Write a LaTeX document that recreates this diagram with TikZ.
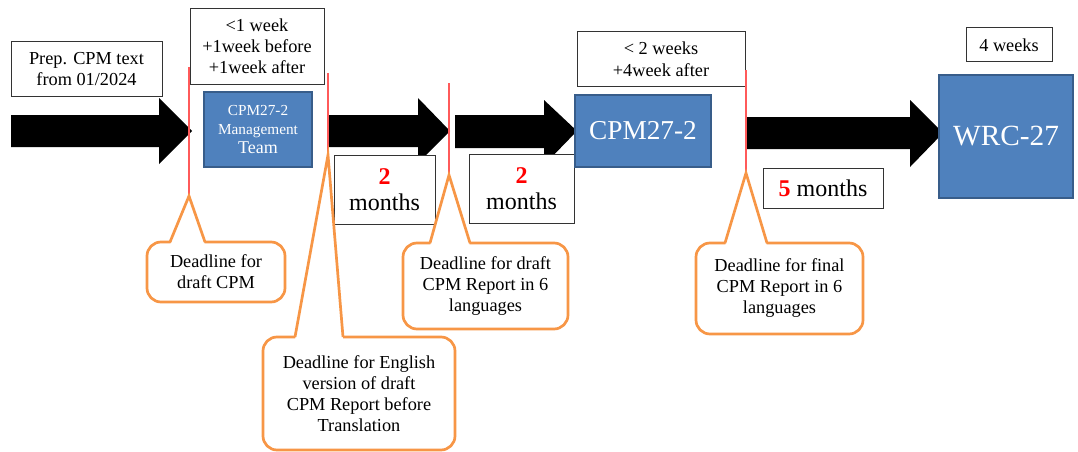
\documentclass[tikz,border=0pt]{standalone}
\usepackage{fontspec}
\setmainfont{Liberation Serif}

\definecolor{stagefill}{HTML}{4F81BD}
\definecolor{stageedge}{HTML}{385D8A}
\definecolor{bubbleline}{HTML}{F79646}
\definecolor{deadred}{HTML}{FF5A5A}

\tikzset{
  note/.style={draw=black!80, line width=1pt, fill=white, align=center, inner sep=0pt,
    font=\fontsize{18.3}{21}\selectfont},
  stage/.style={draw=stageedge, line width=2.5pt, fill=stagefill, text=white,
    align=center, inner sep=0pt},
  bubble/.style={draw=bubbleline, line width=2.7pt, rounded corners=14pt, fill=white,
    align=center, inner sep=0pt, font=\fontsize{18.3}{21}\selectfont},
  pointer/.style={draw=bubbleline, line width=2.7pt, line join=miter},
  deadline/.style={draw=deadred, line width=1.5pt},
}

\begin{document}
\begin{tikzpicture}[x=1pt, y=-1pt]
  \useasboundingbox (0,0) rectangle (1078,452);

  % big black arrows
  \fill (11,115) -- (159,115) -- (159,98) -- (192,131) -- (159,164) -- (159,147) -- (11,147) -- cycle;
  \fill (328,115) -- (418,115) -- (418,98) -- (450,131) -- (418,163) -- (418,147) -- (328,147) -- cycle;
  \fill (455,115) -- (544,115) -- (544,100) -- (577,131) -- (544,165) -- (544,148) -- (455,148) -- cycle;
  \fill (746,117) -- (910,117) -- (910,100) -- (943,133) -- (910,167) -- (910,149) -- (746,149) -- cycle;

  % boxes above and below the arrows
  \node[note, minimum width=151, minimum height=54] (prep) at (86.5,69) {Prep. CPM text\\from 01/2024};
  \node[note, minimum width=134, minimum height=75] (weekone) at (257,46.5) {<1 week\\+1week before\\+1week after};
  \node[note, minimum width=101, minimum height=69, font=\fontsize{24}{26}\selectfont] (monthsa) at (384.5,189.5)
    {\textbf{\color{red}2}\\months};
  \node[note, minimum width=105, minimum height=69, font=\fontsize{24}{26}\selectfont] (monthsb) at (521.5,188.5)
    {\textbf{\color{red}2}\\months};
  \node[note, minimum width=168, minimum height=54, font=\fontsize{18.3}{22}\selectfont] (weektwo) at (661,59)
    {< 2 weeks\\+4week after};
  \node[note, minimum width=120, minimum height=40, font=\fontsize{24}{26}\selectfont] (monthsc) at (823,188)
    {\textbf{\color{red}5} months};
  \node[note, minimum width=86, minimum height=34] (weekfour) at (1009,45) {4 weeks};

  % blue stages
  \node[stage, minimum width=108, minimum height=75, font=\fontsize{15.3}{19}\selectfont] (mgmt) at (258,129.5)
    {CPM27-2\\Management\\\fontsize{18}{20}\selectfont Team};
  \node[stage, minimum width=136, minimum height=72, font=\fontsize{27.3}{30}\selectfont] (cpm) at (643,131) {CPM27-2};
  \node[stage, minimum width=134, minimum height=123, font=\fontsize{29.3}{32}\selectfont] (wrc) at (1006,136.5) {WRC-27};

  % deadline marks
  \coordinate (dla) at (189,67);   \coordinate (dlaend) at (189,196);
  \coordinate (dlb) at (328,73);   \coordinate (dlbend) at (328,155);
  \coordinate (dlc) at (449,83);   \coordinate (dlcend) at (449,175);
  \coordinate (dld) at (746,70);   \coordinate (dldend) at (746,173);
  \draw[deadline] (dla) -- (dlaend);
  \draw[deadline] (dlb) -- (dlbend);
  \draw[deadline] (dlc) -- (dlcend);
  \draw[deadline] (dld) -- (dldend);

  % callouts
  \node[bubble, minimum width=138, minimum height=60] (calla) at (216,272) {Deadline for\\draft CPM};
  \fill[white] (170,245) -- (dlaend) -- (205,245) -- cycle;
  \draw[pointer] (170,242) -- (dlaend) -- (205,242);

  \node[bubble, minimum width=192, minimum height=113] (callb) at (359,393.5)
    {Deadline for English\\version of draft\\CPM Report before\\Translation};
  \fill[white] (295,340) -- (dlbend) -- (343,340) -- cycle;
  \draw[pointer] (295,337) -- (dlbend) -- (343,337);

  \node[bubble, minimum width=165, minimum height=86] (callc) at (485.5,286)
    {Deadline for draft\\CPM Report in 6\\languages};
  \fill[white] (430,246) -- (dlcend) -- (470,246) -- cycle;
  \draw[pointer] (430,243) -- (dlcend) -- (470,243);

  \node[bubble, minimum width=167, minimum height=91] (calld) at (779.5,288.5)
    {Deadline for final\\CPM Report in 6\\languages};
  \fill[white] (725,246) -- (dldend) -- (767,246) -- cycle;
  \draw[pointer] (725,243) -- (dldend) -- (767,243);
\end{tikzpicture}
\end{document}
